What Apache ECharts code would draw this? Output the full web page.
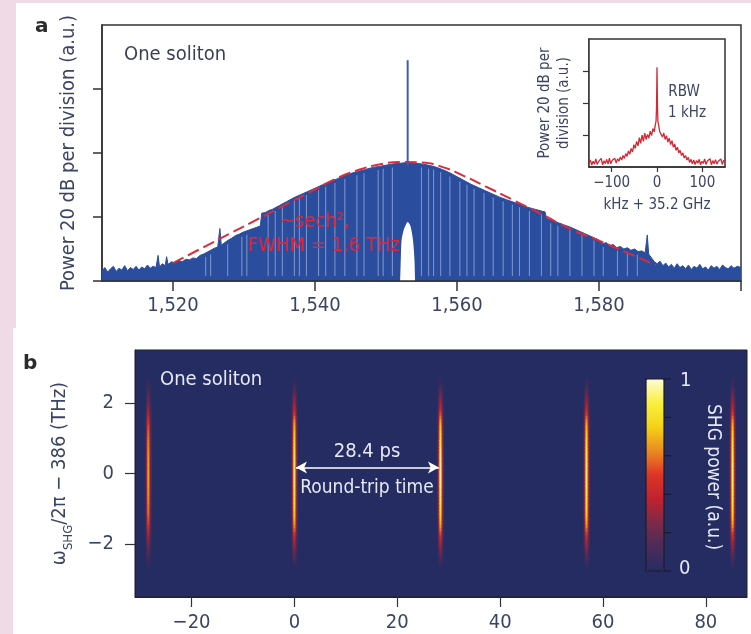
<!DOCTYPE html>
<html>
<head>
<meta charset="utf-8">
<script src="https://cdn.jsdelivr.net/npm/echarts@6/dist/echarts.min.js"></script>
<style>
  html, body { margin: 0; padding: 0; background: #f0dae5; }
  .panel { position: absolute; background: #fff; }
  #chart { position: absolute; left: 0; top: 0; width: 751px; height: 634px; }
</style>
</head>
<body>
<div class="panel" style="left:16px;top:3px;width:735px;height:325px"></div>
<div class="panel" style="left:13px;top:328px;width:738px;height:306px"></div>
<div id="chart"></div>
<script>
// ---- panel a: comb spectrum (upper edge of the blue fill), 20 dB per division
const specWl = [1510.0,1510.4,1510.8,1511.2,1511.6,1512.0,1512.4,1512.8,1513.2,1513.6,1514.0,1514.4,1514.8,1515.2,1515.6,1516.0,1516.4,1516.8,1517.2,1517.6,1517.9,1518.1,1518.5,1518.9,1519.1,1519.3,1519.8,1520.3,1520.8,1521.3,1521.8,1522.3,1522.8,1523.3,1523.8,1524.3,1524.8,1525.3,1525.8,1526.3,1526.6,1526.8,1527.3,1527.8,1528.3,1528.8,1529.3,1529.8,1530.3,1530.8,1531.3,1531.8,1532.3,1532.5,1533.0,1533.5,1534.0,1535.0,1536.0,1537.0,1538.0,1539.0,1540.0,1541.0,1542.0,1543.0,1544.0,1545.0,1546.0,1547.0,1548.0,1549.0,1550.0,1551.0,1552.0,1553.0,1554.0,1555.0,1556.0,1557.0,1558.0,1559.0,1560.0,1561.0,1562.0,1563.0,1564.0,1565.0,1566.0,1567.0,1568.0,1569.0,1570.0,1571.0,1572.0,1572.4,1572.6,1573.0,1574.0,1575.0,1576.0,1577.0,1578.0,1579.0,1580.0,1580.5,1581.0,1581.5,1582.0,1582.5,1583.0,1583.5,1584.0,1584.5,1585.0,1585.5,1586.0,1586.5,1586.8,1587.0,1587.4,1587.8,1588.2,1588.6,1589.0,1589.4,1589.8,1590.2,1590.6,1591.0,1591.4,1591.8,1592.2,1592.6,1593.0,1593.4,1593.8,1594.2,1594.6,1595.0,1595.4,1595.8,1596.2,1596.6,1597.0,1597.4,1597.8,1598.2,1598.6,1599.0,1599.5,1600.0];
const specPow = [0.16,0.21,0.14,0.19,0.23,0.15,0.20,0.17,0.24,0.16,0.21,0.18,0.23,0.17,0.22,0.19,0.25,0.20,0.23,0.21,0.40,0.22,0.27,0.24,0.38,0.26,0.30,0.28,0.32,0.30,0.34,0.33,0.36,0.35,0.40,0.42,0.45,0.48,0.51,0.53,0.82,0.56,0.60,0.64,0.67,0.71,0.73,0.76,0.78,0.80,0.82,0.84,0.86,1.06,1.07,1.10,1.12,1.18,1.24,1.30,1.35,1.40,1.45,1.50,1.55,1.59,1.64,1.68,1.71,1.74,1.77,1.79,1.81,1.83,1.84,1.85,1.84,1.83,1.81,1.78,1.74,1.69,1.63,1.57,1.51,1.46,1.41,1.36,1.31,1.27,1.23,1.19,1.15,1.12,1.09,1.08,0.98,0.96,0.92,0.88,0.84,0.79,0.74,0.69,0.64,0.58,0.60,0.55,0.57,0.52,0.54,0.50,0.52,0.48,0.50,0.46,0.47,0.44,0.72,0.42,0.36,0.30,0.27,0.31,0.24,0.28,0.22,0.26,0.20,0.27,0.21,0.24,0.19,0.25,0.18,0.23,0.20,0.26,0.19,0.22,0.17,0.24,0.20,0.23,0.18,0.25,0.21,0.19,0.24,0.20,0.23,0.21];

// light gaps between comb lines
const gapWl  = [1524.6,1525.3,1527.7,1529.7,1530.4,1533.4,1534.4,1535.4,1537.1,1537.8,1538.8,1540.5,1541.5,1542.8,1544.2,1545.9,1546.9,1548.9,1549.6,1550.9,1555.0,1556.0,1556.7,1557.7,1559.0,1560.4,1561.4,1562.4,1563.8,1565.1,1566.5,1567.8,1568.8,1570.2,1571.9,1573.2,1574.2,1575.9,1577.6,1579.3,1580.6,1582.6,1584.0,1585.4];
const gapTop = [0.42,0.46,0.62,0.74,0.77,1.08,1.14,1.20,1.30,1.34,1.39,1.47,1.52,1.58,1.64,1.70,1.73,1.78,1.80,1.82,1.82,1.80,1.79,1.75,1.68,1.60,1.55,1.49,1.42,1.35,1.29,1.24,1.20,1.14,1.09,0.95,0.91,0.84,0.76,0.68,0.58,0.52,0.50,0.46];

// filtered pump notch
const notchWl  = [1552.0,1552.1,1552.2,1552.5,1552.8,1553.05,1553.4,1553.6,1553.8,1554.0,1554.1];
const notchPow = [0,0.40,0.64,0.80,0.88,0.92,0.87,0.78,0.64,0.35,0];

// pump line
const pumpWl = 1553.05;
const pumpPow = [1.8, 3.45];

// sech^2 fit (dashed)
const fitWl  = [1520,1524,1528,1532,1536,1540,1543,1546,1549,1552,1555,1558,1561,1564,1568,1572,1576,1580,1584,1588];
const fitPow = [0.28,0.51,0.74,0.97,1.20,1.43,1.60,1.73,1.82,1.86,1.85,1.78,1.64,1.48,1.26,1.04,0.81,0.63,0.44,0.25];

// inset: repetition-rate beat note
const beatKHz = [-150,-147,-144,-141,-138,-135,-132,-129,-126,-123,-120,-117,-114,-111,-108,-105,-102,-99,-96,-93,-90,-87,-84,-81,-78,-75,-72,-69,-66,-63,-60,-57,-54,-51,-48,-45,-42,-39,-36,-33,-30,-27,-24,-21,-18,-15,-12,-9,-6,-4,-2,-1,0,1,2,4,6,9,12,15,18,21,24,27,30,33,36,39,42,45,48,51,54,57,60,63,66,69,72,75,78,81,84,87,90,93,96,99,102,105,108,111,114,117,120,123,126,129,132,135,138,141,144,147,150];
const beatPow = [0.12,0.22,0.06,0.18,0.09,0.25,0.08,0.17,0.12,0.27,0.07,0.19,0.11,0.24,0.09,0.28,0.10,0.20,0.14,0.27,0.12,0.26,0.18,0.31,0.22,0.36,0.27,0.42,0.33,0.50,0.40,0.58,0.47,0.70,0.58,0.80,0.66,0.92,0.74,1.00,0.80,1.06,0.86,1.02,0.90,1.12,0.98,1.20,1.10,1.30,1.45,1.90,3.12,1.95,1.42,1.28,1.10,1.16,0.94,1.06,0.86,0.98,0.78,0.90,0.70,0.82,0.62,0.72,0.52,0.62,0.44,0.52,0.36,0.44,0.28,0.36,0.22,0.30,0.14,0.24,0.10,0.22,0.08,0.20,0.12,0.24,0.07,0.18,0.11,0.25,0.08,0.19,0.13,0.26,0.07,0.20,0.10,0.23,0.09,0.18,0.12,0.25,0.08,0.21,0.15];

// ---- panel b: SHG streaks
const streakT = [-28.4, 0, 28.4, 56.8, 85.2];
const streakPeak = [0.72, 0.95, 1.0, 0.95, 0.95];
const colOffset = [-0.5, -0.3, -0.1, 0.1, 0.3, 0.5];
const colWeight = [0.2, 0.55, 1, 1, 0.55, 0.2];
const rowF = [0,0.1,0.2,0.3,0.4,0.5,0.6,0.7,0.8,0.9,1.0,1.1,1.2,1.3,1.4,1.5,1.6,1.7,1.8,1.9,2.0,2.1,2.2,2.3,2.4,2.5,2.6,2.7,2.8];
const rowLevel = [0.95,0.95,0.94,0.94,0.93,0.92,0.91,0.90,0.88,0.86,0.84,0.82,0.79,0.76,0.72,0.67,0.60,0.53,0.46,0.40,0.35,0.30,0.25,0.20,0.15,0.10,0.06,0.03,0.01];

const xTicksA = [1520, 1540, 1560, 1580];
const xTicksB = [-20, 0, 20, 40, 60, 80];
const yTicksB = [-2, 0, 2];

const F = "'DejaVu Sans Condensed', 'Liberation Sans Narrow', sans-serif";
const C = '#3c4463';
const LIGHT = '#e6e9f4';
const minus = v => (v < 0 ? '\u2212' + (-v) : String(v));

const spec = specWl.map((w, i) => [w, specPow[i]]);
const gaps = gapWl.map((w, i) => [w, gapTop[i]]);
const notch = notchWl.map((w, i) => [w, notchPow[i]]);
const fit = fitWl.map((w, i) => [w, fitPow[i]]);
const beat = beatKHz.map((k, i) => [k, beatPow[i]]);

const streaks = [];
streakT.forEach((t, s) => {
  colOffset.forEach((o, c) => {
    rowF.forEach((f, r) => {
      const v = streakPeak[s] * colWeight[c] * rowLevel[r];
      if (v < 0.02) return;
      streaks.push([t + o, f, v]);
      if (f > 0) streaks.push([t + o, -f, v]);
    });
  });
});

const chart = echarts.init(document.getElementById('chart'));

const option = {
  animation: false,
  textStyle: { fontFamily: F },
  grid: [
    { left: 102, top: 25, width: 639, height: 256, show: true, borderColor: '#333', borderWidth: 1.5, backgroundColor: 'transparent' },
    { left: 589, top: 39, width: 136, height: 128, show: true, borderColor: '#333', borderWidth: 1.5, backgroundColor: '#fff', z: 3 },
    { left: 135, top: 350, width: 612, height: 247, show: true, borderColor: '#222', borderWidth: 1, backgroundColor: '#242c62' }
  ],
  xAxis: [
    {
      gridIndex: 0, type: 'value', min: 1510, max: 1600, z: 5,
      axisLine: { show: true, onZero: false, lineStyle: { color: '#333', width: 1.5 } },
      axisTick: { show: true, customValues: [1520, 1540, 1560, 1580, 1600], length: 10, lineStyle: { color: '#333', width: 1.5 } },
      axisLabel: { customValues: xTicksA, margin: 15, fontSize: 20, color: C, fontFamily: F, formatter: v => v.toLocaleString('en-US') },
      splitLine: { show: false }
    },
    {
      gridIndex: 1, type: 'value', min: -150, max: 150, z: 5,
      axisLine: { show: true, onZero: false, lineStyle: { color: '#333', width: 1.5 } },
      axisTick: { show: true, customValues: [-100, 0, 100], length: 5, lineStyle: { color: '#333', width: 1.2 } },
      axisLabel: { customValues: [-100, 0, 100], margin: 9, fontSize: 15, color: C, fontFamily: F, formatter: minus },
      splitLine: { show: false },
      name: 'kHz + 35.2 GHz', nameLocation: 'middle', nameGap: 31,
      nameTextStyle: { fontSize: 15, color: C, fontFamily: F }
    },
    {
      gridIndex: 2, type: 'value', min: -31, max: 88,
      axisLine: { show: true, onZero: false, lineStyle: { color: '#222', width: 1 } },
      axisTick: { show: true, customValues: xTicksB, length: 10, lineStyle: { color: '#333', width: 1.2 } },
      axisLabel: { customValues: xTicksB, margin: 16, fontSize: 20, color: C, fontFamily: F, formatter: minus },
      splitLine: { show: false }
    }
  ],
  yAxis: [
    {
      gridIndex: 0, type: 'value', min: 0, max: 4,
      axisLine: { show: true, onZero: false, lineStyle: { color: '#333', width: 1.5 } },
      axisTick: { show: true, customValues: [0, 1, 2, 3], length: 9, lineStyle: { color: '#333', width: 1.5 } },
      axisLabel: { show: false },
      splitLine: { show: false },
      name: 'Power 20 dB per division (a.u.)', nameLocation: 'middle', nameGap: 23,
      nameTextStyle: { fontSize: 20, color: C, fontFamily: F }
    },
    {
      gridIndex: 1, type: 'value', min: 0, max: 4,
      axisLine: { show: true, onZero: false, lineStyle: { color: '#333', width: 1.5 } },
      axisTick: { show: true, customValues: [1, 2, 3], length: 6, lineStyle: { color: '#333', width: 1.2 } },
      axisLabel: { show: false },
      splitLine: { show: false },
      name: 'Power 20 dB per\ndivision (a.u.)', nameLocation: 'middle', nameGap: 15,
      nameTextStyle: { fontSize: 15, lineHeight: 19, color: C, fontFamily: F }
    },
    {
      gridIndex: 2, type: 'value', min: -3.5, max: 3.5,
      axisLine: { show: true, onZero: false, lineStyle: { color: '#222', width: 1 } },
      axisTick: { show: true, customValues: yTicksB, length: 10, lineStyle: { color: '#333', width: 1.2 } },
      axisLabel: { customValues: yTicksB, margin: 21, fontSize: 20, color: C, fontFamily: F, formatter: minus },
      splitLine: { show: false },
      name: '{w|\u03c9}{s|SHG}{w|/2\u03c0 \u2212 386 (THz)}', nameLocation: 'middle', nameGap: 60,
      nameTextStyle: {
        rich: {
          w: { fontSize: 20, color: C, fontFamily: F, verticalAlign: 'bottom', padding: [0, 0, 5, 0] },
          s: { fontSize: 13, color: C, fontFamily: F, verticalAlign: 'bottom' }
        }
      }
    }
  ],
  visualMap: {
    type: 'continuous', seriesIndex: 6, dimension: 2, min: 0, max: 1,
    calculable: false, orient: 'vertical', left: 646, top: 379,
    itemWidth: 18, itemHeight: 192, padding: 0, text: null, hoverLink: false,
    inRange: { color: ['#262d62', '#4b2b5a', '#7c2a48', '#c0222f', '#dc3526', '#ea8a22', '#f4d215', '#f8f040', '#fdfbd8'] }
  },
  series: [
    {
      type: 'line', xAxisIndex: 0, yAxisIndex: 0, data: spec, symbol: 'none',
      lineStyle: { color: '#2a4d9e', width: 1 }, areaStyle: { color: '#2a4d9e', opacity: 1 }, z: 2
    },
    {
      type: 'custom', xAxisIndex: 0, yAxisIndex: 0, data: gaps, z: 3, silent: true,
      renderItem: (params, api) => {
        const top = api.coord([api.value(0), api.value(1)]);
        const bot = api.coord([api.value(0), 0.08]);
        return { type: 'line', shape: { x1: top[0], y1: top[1] + 3, x2: bot[0], y2: bot[1] },
                 style: { stroke: 'rgba(185,202,240,0.55)', lineWidth: 1.1 } };
      }
    },
    {
      type: 'line', xAxisIndex: 0, yAxisIndex: 0, data: notch, symbol: 'none', smooth: 0.3,
      lineStyle: { width: 0 }, areaStyle: { color: '#fff', opacity: 1 }, z: 4
    },
    {
      type: 'line', xAxisIndex: 0, yAxisIndex: 0, data: fit, symbol: 'none', smooth: true,
      lineStyle: { color: '#dd2b3c', width: 2, type: [12, 5] }, z: 5
    },
    {
      type: 'line', xAxisIndex: 0, yAxisIndex: 0, data: pumpPow.map(p => [pumpWl, p]), symbol: 'none',
      lineStyle: { color: '#3d5db2', width: 2 }, z: 6
    },
    {
      type: 'line', xAxisIndex: 1, yAxisIndex: 1, data: beat, symbol: 'none',
      lineStyle: { color: '#d02a36', width: 1.3 }, z: 6
    },
    {
      type: 'custom', xAxisIndex: 2, yAxisIndex: 2, data: streaks, clip: true, silent: true,
      renderItem: (params, api) => {
        const c = api.coord([api.value(0), api.value(1)]);
        const s = api.size([0.2, 0.1]);
        return { type: 'rect', shape: { x: c[0] - s[0] / 2, y: c[1] - s[1] / 2, width: s[0] + 0.4, height: s[1] + 0.4 },
                 style: { fill: api.visual('color') } };
      }
    },
    {
      type: 'line', xAxisIndex: 2, yAxisIndex: 2, data: [], silent: true,
      markLine: {
        silent: true, symbol: ['arrow', 'arrow'], symbolSize: [9, 11],
        label: { show: false },
        lineStyle: { color: '#ffffff', width: 1.5, type: 'solid' },
        data: [[{ coord: [0.3, 0.17] }, { coord: [28.1, 0.17] }]]
      }
    }
  ],
  graphic: [
    { type: 'text', left: 35, top: 17, style: { text: 'a', fontSize: 20, fontWeight: 'bold', fontFamily: "'DejaVu Sans', sans-serif", fill: '#2b2b2b' } },
    { type: 'text', left: 23, top: 354, style: { text: 'b', fontSize: 20, fontWeight: 'bold', fontFamily: "'DejaVu Sans', sans-serif", fill: '#2b2b2b' } },
    { type: 'text', x: 124, y: 55, style: { text: 'One soliton', fontSize: 20, fontFamily: F, fill: '#3b3f52', textVerticalAlign: 'middle' } },
    { type: 'text', x: 280, y: 222, z: 10, style: { text: '~sech\u00b2,', fontSize: 20, fontFamily: F, fill: '#e3263b', textVerticalAlign: 'middle' } },
    { type: 'text', x: 248, y: 246, z: 10, style: { text: 'FWHM = 1.6 THz', fontSize: 20, fontFamily: F, fill: '#e3263b', textVerticalAlign: 'middle' } },
    { type: 'text', x: 684, y: 92, z: 10, style: { text: 'RBW', fontSize: 15, fontFamily: F, fill: C, textAlign: 'center', textVerticalAlign: 'middle' } },
    { type: 'text', x: 687, y: 113, z: 10, style: { text: '1 kHz', fontSize: 15, fontFamily: F, fill: C, textAlign: 'center', textVerticalAlign: 'middle' } },
    { type: 'text', x: 160, y: 380, z: 10, style: { text: 'One soliton', fontSize: 20, fontFamily: F, fill: LIGHT, textVerticalAlign: 'middle' } },
    { type: 'text', x: 367, y: 452, z: 10, style: { text: '28.4 ps', fontSize: 20, fontFamily: F, fill: LIGHT, textAlign: 'center', textVerticalAlign: 'middle' } },
    { type: 'text', x: 367, y: 488, z: 10, style: { text: 'Round-trip time', fontSize: 19, fontFamily: F, fill: LIGHT, textAlign: 'center', textVerticalAlign: 'middle' } },
    { type: 'text', x: 680, y: 381, z: 10, style: { text: '1', fontSize: 20, fontFamily: F, fill: LIGHT, textVerticalAlign: 'middle' } },
    { type: 'text', x: 679, y: 569, z: 10, style: { text: '0', fontSize: 20, fontFamily: F, fill: LIGHT, textVerticalAlign: 'middle' } },
    { type: 'text', x: 713, y: 477, rotation: -Math.PI / 2, z: 10, style: { text: 'SHG power (a.u.)', fontSize: 19, fontFamily: F, fill: LIGHT, textAlign: 'center', textVerticalAlign: 'middle' } },
    { type: 'rect', z: 10, shape: { x: 646, y: 379, width: 18, height: 192 }, style: { fill: 'none', stroke: '#1b1b2b', lineWidth: 1.2 } },
    { type: 'group', z: 10, children: [379, 417.4, 455.8, 494.2, 532.6, 571].map(y => (
      { type: 'line', shape: { x1: 664, y1: y, x2: 671, y2: y }, style: { stroke: '#1b1b2b', lineWidth: 1.2 } }
    )) }
  ]
};

chart.setOption(option);
</script>
</body>
</html>
